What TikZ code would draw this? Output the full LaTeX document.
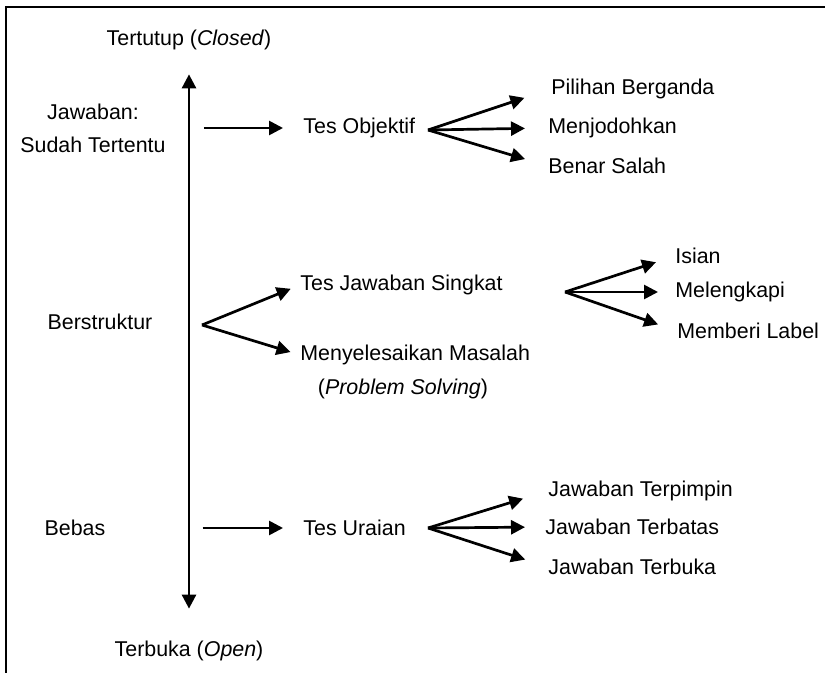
\documentclass[tikz,border=0pt]{standalone}
\usepackage{fontspec}
\setmainfont{Liberation Sans}
\usetikzlibrary{arrows.meta}

\tikzset{
  lbl/.style={font=\fontsize{10.7}{16.5}\selectfont, inner sep=0pt},
  tip/.tip={Triangle[length=7pt,width=7pt]},
  fan/.style={-tip, line width=1.35pt},
}

\begin{document}
\begin{tikzpicture}[x=0.5pt, y=-0.5pt]
  \useasboundingbox (0,0) rectangle (825,673);
  \draw[line width=1pt] (6,673) -- (6,7) -- (825,7);

  \begin{scope}[every node/.style={lbl}]
    \node (closed) at (189,40) {Tertutup (\textit{Closed})};
    \node (open) at (189,651) {Terbuka (\textit{Open})};
    \node[align=center] (jaw) at (93,128) {Jawaban:\\Sudah Tertentu};
    \node (ber) at (100,322) {Berstruktur};
    \node (beb) at (75,528) {Bebas};
  \end{scope}

  \begin{scope}[every node/.style={lbl, anchor=west}]
    \node (obj) at (303,128) {Tes Objektif};
    \node (pil) at (551,89) {Pilihan Berganda}; \node (men) at
    (548,128) {Menjodohkan}; \node (ben) at (548,166) {Benar Salah};

    \node (tjs) at (300,285) {Tes Jawaban Singkat};
    \node (mm) at (300,355) {Menyelesaikan Masalah};
    \node (isi) at (675,256) {Isian}; \node (mel) at (675,292)
    {Melengkapi}; \node (mbl) at (677,331) {Memberi Label};

    \node (ura) at (303,528) {Tes Uraian};
    \node (jtp) at (548,491) {Jawaban Terpimpin}; \node (jtb) at
    (545,527) {Jawaban Terbatas}; \node (jtk) at (548,567) {Jawaban
      Terbuka};
  \end{scope}
  \node[lbl] (ps) at (403,389) {(\textit{Problem Solving})};

  \coordinate (o1) at (428,130); \coordinate (o2) at (202,325);
  \coordinate (o3) at (565,292); \coordinate (o4) at (428,528);

  \begin{scope}[fan]
    \draw[tip-tip, shorten <=12pt, shorten >=16pt] (closed) -- (open);

    \draw[shorten <=19pt, shorten >=10pt] (jaw) -- (obj);
    \draw[shorten <=48.5pt, shorten >=10pt] (beb) -- (ura);

    \draw[shorten >=14pt] (o1) -- (pil.west); \draw[shorten >=11.5pt]
    (o1) -- (men.west); \draw[shorten >=12pt] (o1) -- (ben.west);

    \draw[shorten >=5pt] (o2) -- (tjs.west);
    \draw[shorten >=5pt] (o2) -- (mm.west);

    \draw[shorten >=10pt] (o3) -- (isi.west); \draw[shorten >=8.5pt]
    (o3) -- (mel.west); \draw[shorten >=10pt] (o3) -- (mbl.west);

    \draw[shorten >=13pt] (o4) -- (jtp.west); \draw[shorten >=10pt]
    (o4) -- (jtb.west); \draw[shorten >=12pt] (o4) -- (jtk.west);
  \end{scope}
\end{tikzpicture}
\end{document}
